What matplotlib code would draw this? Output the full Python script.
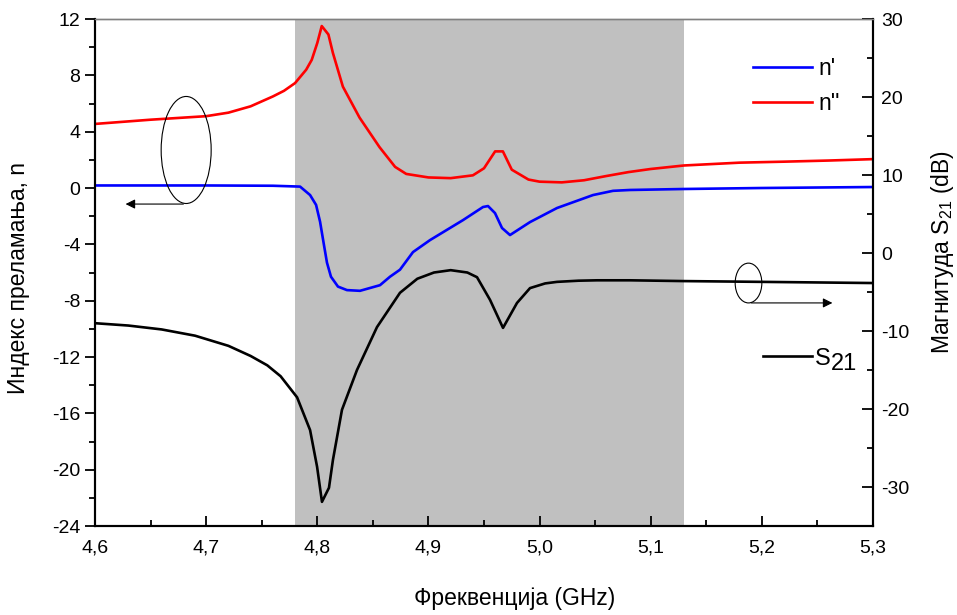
import numpy as np
import matplotlib
matplotlib.use("Agg")
import matplotlib.pyplot as plt
from matplotlib.patches import Ellipse
from matplotlib.ticker import MultipleLocator, FuncFormatter

# ====== Data ======
# n'' (red, left axis)
f_red = [4.60, 4.65, 4.70, 4.72, 4.74, 4.76, 4.77, 4.78, 4.79, 4.795, 4.80, 4.804,
         4.81, 4.814, 4.823, 4.838, 4.856, 4.870, 4.88, 4.90, 4.92, 4.94, 4.95,
         4.96, 4.967, 4.975, 4.99, 5.00, 5.02, 5.04, 5.06, 5.08, 5.10, 5.13,
         5.18, 5.22, 5.26, 5.30]
n_red = [4.55, 4.85, 5.1, 5.35, 5.8, 6.5, 6.9, 7.45, 8.4, 9.1, 10.3, 11.5,
         10.9, 9.6, 7.2, 5.0, 2.9, 1.5, 1.0, 0.75, 0.7, 0.9, 1.4,
         2.6, 2.6, 1.3, 0.6, 0.45, 0.4, 0.55, 0.85, 1.13, 1.35, 1.6,
         1.8, 1.87, 1.95, 2.05]

# n' (blue, left axis)
f_blue = [4.60, 4.70, 4.76, 4.7845, 4.7935, 4.7989, 4.8025, 4.806, 4.8087,
          4.8123, 4.8186, 4.8267, 4.8384, 4.8564, 4.8654, 4.8744, 4.8861,
          4.9014, 4.9311, 4.9491, 4.9536, 4.9599, 4.9662, 4.9734, 4.9914,
          5.0157, 5.0481, 5.0661, 5.0814, 5.13, 5.20, 5.30]
n_blue = [0.18, 0.18, 0.16, 0.1, -0.5, -1.2, -2.4, -4.05, -5.3,
          -6.3, -7.0, -7.25, -7.3, -6.9, -6.3, -5.8, -4.55,
          -3.7, -2.28, -1.35, -1.28, -1.78, -2.84, -3.34, -2.42,
          -1.42, -0.5, -0.2, -0.14, -0.07, 0.0, 0.07]

# S21 (black, right axis, dB)
f_s21 = [4.60, 4.63, 4.66, 4.69, 4.72, 4.74, 4.755, 4.767, 4.7818, 4.7935,
         4.7998, 4.8042, 4.8105, 4.8141, 4.8222, 4.8357, 4.8537, 4.8744,
         4.89, 4.905, 4.92, 4.935, 4.9437, 4.9554, 4.9671, 4.9797, 4.9914,
         5.005, 5.0157, 5.035, 5.0517, 5.0814, 5.13, 5.20, 5.30]
s21 = [-9.0, -9.3, -9.8, -10.6, -11.9, -13.2, -14.4, -15.8, -18.5, -22.7,
       -27.4, -31.9, -30.1, -26.5, -20.1, -15.0, -9.5, -5.1,
       -3.3, -2.5, -2.2, -2.5, -3.1, -6.0, -9.6, -6.4, -4.5,
       -3.9, -3.7, -3.55, -3.5, -3.5, -3.6, -3.7, -3.85]

band = (4.78, 5.13)
# ============================================

plt.rcParams['font.family'] = ['Liberation Sans', 'DejaVu Sans']
plt.rcParams['axes.unicode_minus'] = False
plt.rcParams['mathtext.default'] = 'regular'

TICK_FS = 14
LABEL_FS = 16.5

fig = plt.figure(figsize=(9.57, 6.15), dpi=100)
ax = fig.add_axes([0.0993, 0.1447, 0.8129, 0.8244])
ax2 = ax.twinx()

ax.axvspan(*band, color='#c0c0c0', lw=0, zorder=0)
l_blue, = ax.plot(f_blue, n_blue, color='#0000ff', lw=1.9)
l_red, = ax.plot(f_red, n_red, color='#ff0000', lw=1.9)
l_s21, = ax2.plot(f_s21, s21, color='black', lw=1.9)

ax.set_xlim(4.6, 5.3)
ax.set_ylim(-24, 12)
ax2.set_ylim(-35, 30)

ax.xaxis.set_major_locator(MultipleLocator(0.1))
ax.xaxis.set_minor_locator(MultipleLocator(0.05))
ax.xaxis.set_major_formatter(FuncFormatter(lambda v, p: f"{v:.1f}".replace('.', ',')))
ax.yaxis.set_major_locator(MultipleLocator(4))
ax.yaxis.set_minor_locator(MultipleLocator(2))
ax2.yaxis.set_major_locator(MultipleLocator(10))
ax2.yaxis.set_minor_locator(MultipleLocator(5))

ax.tick_params(axis='x', which='both', direction='in', top=False, labelsize=TICK_FS, pad=10)
ax.tick_params(axis='x', which='major', length=7, width=1.3)
ax.tick_params(axis='x', which='minor', length=4, width=1.3)
ax.tick_params(axis='y', which='both', direction='out', right=False, labelsize=TICK_FS, width=1.3)
ax.tick_params(axis='y', which='major', length=7)
ax.tick_params(axis='y', which='minor', length=4)
ax2.tick_params(axis='y', which='both', direction='in', labelsize=TICK_FS, width=1.3, pad=6)
ax2.tick_params(axis='y', which='major', length=8)
ax2.tick_params(axis='y', which='minor', length=4)

for a in (ax, ax2):
    a.spines['top'].set_color('#808080')
    a.spines['top'].set_linewidth(1.0)
    for s in ('left', 'right', 'bottom'):
        a.spines[s].set_linewidth(1.5)

ax.set_xlabel("Фреквенција (GHz)", fontsize=LABEL_FS)
ax.xaxis.set_label_coords(0.54, -0.12)
ax.set_ylabel("Индекс преламања, n", fontsize=LABEL_FS)
ax.yaxis.set_label_coords(-0.0835, 0.49)
ax2.set_ylabel("Магнитуда S$_{21}$ (dB)", fontsize=LABEL_FS)
ax2.yaxis.set_label_coords(1.072, 0.54)

# ellipse + arrow markers for which axis each curve belongs to
ax.add_patch(Ellipse((4.682, 2.7), 0.045, 7.6, fill=False, lw=0.8, color='black', zorder=5))
ax.annotate('', xy=(4.625, -1.14), xytext=(4.682, -1.14),
            arrowprops=dict(arrowstyle='-|>', color='black', lw=0.8, mutation_scale=14))
ax2.add_patch(Ellipse((5.188, -3.85), 0.024, 5.1, fill=False, lw=0.8, color='black', zorder=5))
ax2.annotate('', xy=(5.266, -6.4), xytext=(5.188, -6.4),
             arrowprops=dict(arrowstyle='-|>', color='black', lw=0.8, mutation_scale=14))

leg1 = ax2.legend([l_blue, l_red], ["n'", "n''"], loc='upper left',
                  bbox_to_anchor=(0.8458, 0.926), frameon=False, fontsize=LABEL_FS,
                  handlelength=2.58, handletextpad=0.26, labelspacing=0.55,
                  borderpad=0, borderaxespad=0)
ax2.add_artist(leg1)
leg2 = ax2.legend([l_s21], ["S"], loc='upper left',
                  bbox_to_anchor=(0.8586, 0.352), frameon=False, fontsize=17,
                  handlelength=2.08, handletextpad=0.13, borderpad=0, borderaxespad=0)

# subscript "21" of the S21 legend entry, same size as the S
fig.canvas.draw()
bb = leg2.get_texts()[0].get_window_extent()
fig.text(bb.x1 / fig.dpi / fig.get_figwidth(), (bb.y0 - 5) / fig.dpi / fig.get_figheight(),
         '21', fontsize=17, ha='left', va='bottom')

fig.savefig('out.png', dpi=100)
